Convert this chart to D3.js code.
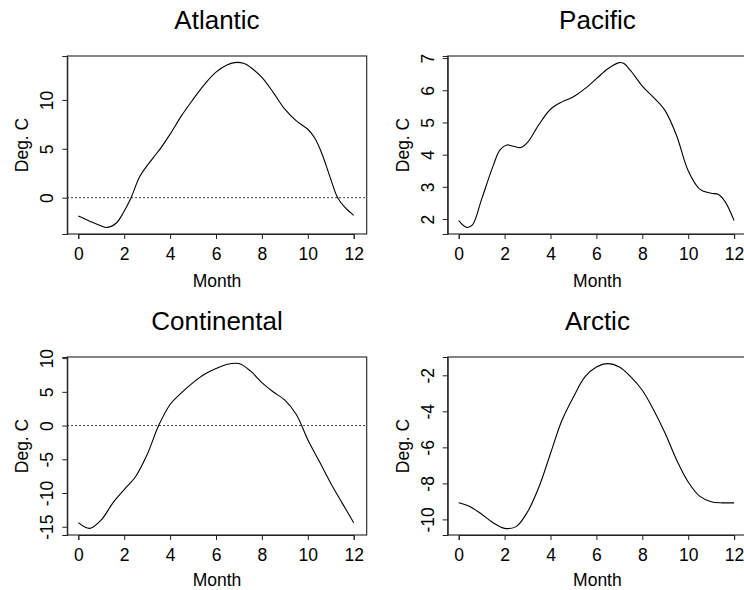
<!DOCTYPE html>
<html>
<head>
<meta charset="utf-8">
<script src="https://cdn.jsdelivr.net/npm/d3@7"></script>
<style>
  html, body { margin: 0; padding: 0; background: #fff; }
  svg { display: block; font-family: "Liberation Sans", Arial, sans-serif; }
</style>
</head>
<body>
<svg id="chart" width="744" height="590"></svg>
<script>
// ---- Data ----
const months = [0, 0.5, 1, 1.5, 2, 2.5, 3, 3.5, 4, 4.5, 5, 5.5, 6, 6.5, 7, 7.5, 8, 8.5, 9, 9.5, 10, 10.5, 11, 11.5, 12];

const atlanticX = [0, 0.5, 0.95, 1.26, 1.67, 1.96, 2.3, 2.69, 3.27, 3.6, 4, 4.5, 5, 5.5, 6, 6.5, 6.8, 7.2, 7.5, 8, 8.5, 9, 9.5, 10, 10.3, 10.6, 11, 11.3, 11.6, 12];
const atlanticY = [-1.88, -2.4, -2.84, -3.04, -2.56, -1.54, 0, 2.21, 4.1, 5.1, 6.5, 8.4, 10.05, 11.6, 12.85, 13.6, 13.82, 13.75, 13.35, 12.3, 10.75, 9.05, 7.85, 7.0, 6.1, 4.6, 1.9, 0, -0.95, -1.81];

const pacificX = [0, 0.35, 0.6, 1, 1.5, 1.8, 2.1, 2.4, 2.7, 3, 3.5, 4, 4.5, 5, 5.5, 6, 6.5, 7, 7.2, 7.5, 8, 8.5, 9, 9.5, 10, 10.5, 11, 11.3, 11.6, 12];
const pacificY = [1.95, 1.74, 1.82, 2.62, 3.65, 4.15, 4.3, 4.26, 4.22, 4.38, 4.94, 5.41, 5.64, 5.8, 6.05, 6.36, 6.67, 6.86, 6.83, 6.6, 6.13, 5.77, 5.36, 4.58, 3.5, 2.93, 2.8, 2.77, 2.55, 1.95];

const continentalX = months;
const continentalY = [-14.4, -15.25, -14.0, -11.5, -9.5, -7.55, -4.3, 0, 3.13, 4.87, 6.36, 7.6, 8.45, 9.1, 9.19, 8.1, 6.36, 4.97, 3.78, 1.64, -2.1, -5.3, -8.54, -11.5, -14.4];

const arcticX = months;
const arcticY = [-9.08, -9.3, -9.71, -10.19, -10.5, -10.4, -9.58, -8.19, -6.34, -4.5, -3.2, -2.09, -1.54, -1.35, -1.54, -2.09, -2.83, -3.94, -5.23, -6.71, -7.92, -8.71, -9.02, -9.08, -9.08];

const xTicks = [0, 2, 4, 6, 8, 10, 12];
const atlanticTicks = [0, 5, 10];
const pacificTicks = [2, 3, 4, 5, 6, 7];
const continentalTicks = [-15, -10, -5, 0, 5, 10];
const arcticTicks = [-10, -8, -6, -4, -2];

const titles = ["Atlantic", "Pacific", "Continental", "Arctic"];
const xLabel = "Month";
const yLabel = "Deg. C";

const panels = [
  { title: titles[0], xs: atlanticX, ys: atlanticY, ticks: atlanticTicks, zero: true },
  { title: titles[1], xs: pacificX, ys: pacificY, ticks: pacificTicks, zero: false },
  { title: titles[2], xs: continentalX, ys: continentalY, ticks: continentalTicks, zero: true },
  { title: titles[3], xs: arcticX, ys: arcticY, ticks: arcticTicks, zero: false }
];

// ---- Layout ----
const svg = d3.select("#chart");
const colOffset = [0, 380.4];
const rowOffset = [0, 301];
const labelOffset = [53, 51];
const boxL = 67.3, boxW = 299.4, boxT = 56, boxH = 178;
const x0px = 78.3, x12px = 353.7;
const tickLen = 5;
const fs = 17.5, titleFs = 26;
const fmt = d => String(d); // plain hyphen-minus, as in the reference

panels.forEach((p, i) => {
  const row = Math.floor(i / 2);
  const dx = colOffset[i % 2], dy = rowOffset[row];
  const L = boxL + dx, T = boxT + dy, B = T + boxH, R = L + boxW;

  const x = d3.scaleLinear().domain([0, 12]).range([x0px + dx, x12px + dx]);
  const [mn, mx] = d3.extent(p.ys);
  const pad = (mx - mn) * 0.04;
  const y = d3.scaleLinear().domain([mn - pad, mx + pad]).range([B, T]);

  const g = svg.append("g");

  // zero reference line
  if (p.zero) {
    g.append("line")
      .attr("x1", L).attr("x2", R)
      .attr("y1", y(0)).attr("y2", y(0))
      .attr("stroke", "#000").attr("stroke-width", 1)
      .attr("stroke-dasharray", "1.5,2.5");
  }

  // curve
  const line = d3.line()
    .x(d => x(d[0])).y(d => y(d[1]))
    .curve(d3.curveCatmullRom.alpha(0.5));
  g.append("path")
    .datum(p.xs.map((v, k) => [v, p.ys[k]]))
    .attr("d", line)
    .attr("fill", "none").attr("stroke", "#000").attr("stroke-width", 1.1);

  // box
  g.append("rect")
    .attr("x", L).attr("y", T).attr("width", boxW).attr("height", boxH)
    .attr("fill", "none").attr("stroke", "#222").attr("stroke-width", 1.1);

  // x axis
  const xa = g.append("g").attr("transform", `translate(0,${B})`)
    .call(d3.axisBottom(x).tickValues(xTicks).tickSize(tickLen).tickFormat(fmt));
  xa.select(".domain").attr("stroke", "#222");
  xa.selectAll(".tick line").attr("stroke", "#222");
  xa.selectAll("text").attr("font-size", fs).attr("font-family", "Liberation Sans, Arial, sans-serif")
    .attr("fill", "#000").attr("y", 26).attr("dy", null);

  // y axis
  const ya = g.append("g").attr("transform", `translate(${L},0)`)
    .call(d3.axisLeft(y).tickValues(p.ticks).tickSize(tickLen).tickFormat(fmt));
  ya.select(".domain").attr("stroke", "#222");
  ya.selectAll(".tick line").attr("stroke", "#222");
  ya.selectAll("text").attr("font-size", fs).attr("font-family", "Liberation Sans, Arial, sans-serif")
    .attr("fill", "#000").attr("x", null).attr("dy", null)
    .attr("text-anchor", "middle")
    .attr("transform", "translate(-14,0) rotate(-90)");

  // title
  g.append("text")
    .attr("x", L + boxW / 2).attr("y", T - 26.7)
    .attr("text-anchor", "middle").attr("font-size", titleFs)
    .text(p.title);

  // axis labels
  g.append("text")
    .attr("x", L + boxW / 2).attr("y", B + labelOffset[row])
    .attr("text-anchor", "middle").attr("font-size", fs)
    .text(xLabel);
  g.append("text")
    .attr("transform", `translate(${L - 39},${T + boxH / 2}) rotate(-90)`)
    .attr("text-anchor", "middle").attr("font-size", fs)
    .text(yLabel);
});
</script>
</body>
</html>
